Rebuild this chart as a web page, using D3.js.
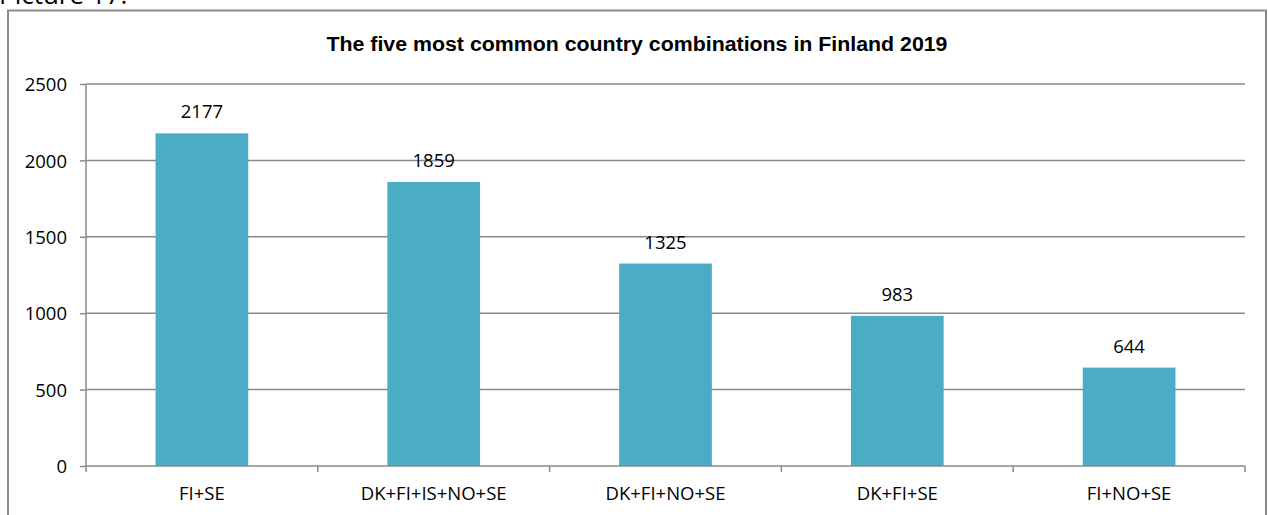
<!DOCTYPE html>
<html><head><meta charset="utf-8">
<script src="https://cdn.jsdelivr.net/npm/d3@7"></script>
<style>body{margin:0;background:#fff}svg{display:block}</style>
</head><body>
<script>
const categories = ["FI+SE","DK+FI+IS+NO+SE","DK+FI+NO+SE","DK+FI+SE","FI+NO+SE"];
const values = [2177,1859,1325,983,644];
const yTicks = [0,500,1000,1500,2000,2500];
const title = "The five most common country combinations in Finland 2019";
const caption = "Picture 17:";

const W=1268,H=515;
const svg=d3.select("body").append("svg").attr("width",W).attr("height",H);
const labelFont="'Open Sans', 'Noto Sans', sans-serif";

// caption (cut off at top, as in the reference)
svg.append("text").attr("x",-1).attr("y",4).attr("font-family",labelFont)
  .attr("font-size",26).attr("fill","#000").text(caption);

// outer frame
svg.append("rect").attr("x",8).attr("y",10.5).attr("width",1258).attr("height",520)
  .attr("fill","#fff").attr("stroke","#8a8a8a").attr("stroke-width",2);

svg.append("text").attr("x",637).attr("y",51).attr("text-anchor","middle")
  .attr("font-family","'Liberation Sans Narrow', 'Arial Narrow', 'Liberation Sans', sans-serif")
  .attr("font-weight","bold").attr("font-size",20).attr("fill","#000")
  .attr("textLength",621).attr("lengthAdjust","spacingAndGlyphs").text(title);

const x0=86,x1=1245,yTop=84,yBot=466;
const x=d3.scaleBand().domain(categories).range([x0,x1]).paddingInner(0.6).paddingOuter(0.3);
const y=d3.scaleLinear().domain([0,2500]).range([yBot,yTop]);

// gridlines
svg.append("g").selectAll("line").data(yTicks.filter(d=>d>0)).join("line")
  .attr("x1",x0).attr("x2",x1).attr("y1",d=>y(d)).attr("y2",d=>y(d))
  .attr("stroke","#8a8a8a").attr("stroke-width",1.5);

// y axis
const yAxis=svg.append("g").attr("transform",`translate(${x0},0)`)
  .call(d3.axisLeft(y).tickValues(yTicks).tickSize(6).tickPadding(13).tickFormat(d3.format("d")));
yAxis.select(".domain").attr("stroke","#8a8a8a").attr("stroke-width",1.5).attr("d",`M0,${yTop}V${yBot}`);
yAxis.selectAll(".tick line").attr("stroke","#8a8a8a").attr("stroke-width",1.5);
yAxis.selectAll(".tick text").attr("font-family",labelFont).attr("font-size",18.5).attr("fill","#000").attr("dy","0.36em");

// bars
svg.append("g").selectAll("rect").data(values).join("rect")
  .attr("x",(d,i)=>x(categories[i])).attr("width",x.bandwidth())
  .attr("y",d=>y(d)).attr("height",d=>yBot-y(d)).attr("fill","#4BACC6");

// x axis
const xg=svg.append("g").attr("transform",`translate(0,${yBot})`);
xg.append("line").attr("x1",x0).attr("x2",x1).attr("stroke","#8a8a8a").attr("stroke-width",1.5);
const step=x.step();
xg.selectAll("line.tk").data(d3.range(categories.length+1)).join("line").attr("class","tk")
  .attr("x1",i=>x0+i*step).attr("x2",i=>x0+i*step).attr("y1",0).attr("y2",6)
  .attr("stroke","#8a8a8a").attr("stroke-width",1.5);
xg.selectAll("text").data(categories).join("text")
  .attr("x",d=>x(d)+x.bandwidth()/2).attr("y",34).attr("text-anchor","middle")
  .attr("font-family",labelFont).attr("font-size",18.5).attr("fill","#000").text(d=>d);

// value labels
svg.append("g").selectAll("text").data(values).join("text")
  .attr("x",(d,i)=>x(categories[i])+x.bandwidth()/2).attr("y",d=>y(d)-15)
  .attr("text-anchor","middle").attr("font-family",labelFont).attr("font-size",18.5).attr("fill","#000")
  .text(d=>d);
</script>
</body></html>
